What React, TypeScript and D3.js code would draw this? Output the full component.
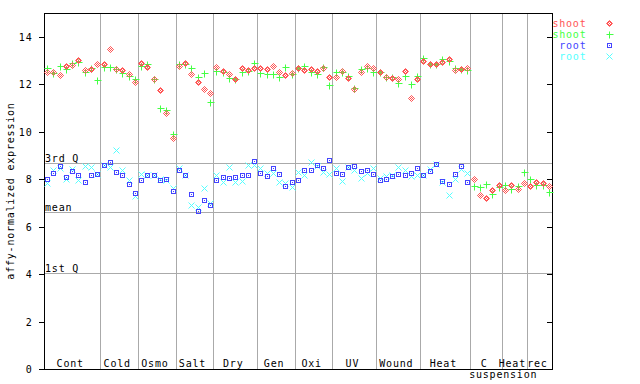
import React from "react";
import * as d3 from "d3";

const groupNames = ["Cont", "Cold", "Osmo", "Salt", "Dry", "Gen", "Oxi", "UV", "Wound", "Heat", "C", "Heat", "rec"];
const groupSizes = [9, 6, 6, 6, 7, 6, 6, 7, 7, 8, 5, 4, 4];
const yTicks = [0, 2, 4, 6, 8, 10, 12, 14];
const refLines = [
  { label: "3rd Q", value: 8.68 },
  { label: "mean", value: 6.6 },
  { label: "1st Q", value: 4.05 },
];

const shootRed = [
  12.51, 12.5, 12.39, 12.77, 12.81, 13.02, 12.6, 12.64, 12.85,
  12.85, 13.48, 12.64, 12.6, 12.43, 12.09,
  12.89, 12.72, 12.22, 11.75, 10.78, 9.73,
  12.77, 12.89, 12.43, 12.09, 11.8, 11.63,
  12.72, 12.56, 12.43, 12.22, 12.68, 12.6, 12.68,
  12.68, 12.64, 12.77, 12.51, 12.39, 12.47,
  12.68, 12.6, 12.64, 12.56, 12.68, 12.3,
  12.3, 12.56, 12.26, 11.8, 12.51, 12.77, 12.68,
  12.51, 12.3, 12.26, 12.22, 12.56, 11.42, 12.22,
  12.98, 12.85, 12.85, 12.94, 13.06, 12.6, 12.64, 12.68,
  8.0, 7.33, 7.2, 7.54, 7.75,
  7.54, 7.75, 7.58, 7.83,
  7.71, 7.87, 7.83, 7.71,
];
const shootGreen = [
  12.68, 12.47, 12.77, 12.64, 12.89, 12.94, 12.51, 12.68, 12.18,
  12.72, 12.72, 12.64, 12.47, 12.35, 12.22,
  12.77, 12.85, 12.22, 11.0, 10.91, 9.9,
  12.85, 12.85, 12.68, 12.3, 12.47, 11.25,
  12.56, 12.51, 12.26, 12.22, 12.51, 12.56, 12.89,
  12.47, 12.43, 12.43, 12.3, 12.72, 12.43,
  12.68, 12.77, 12.51, 12.43, 12.72, 11.96,
  12.51, 12.51, 12.35, 11.84, 12.64, 12.68, 12.51,
  12.51, 12.3, 12.3, 12.05, 12.35, 12.01, 12.35,
  13.1, 12.85, 12.85, 13.06, 12.98, 12.68, 12.64, 12.6,
  7.71, 7.66, 7.79, 7.37, 7.66,
  7.75, 7.58, 7.71, 8.3,
  8.0, 7.75, 7.75, 7.45,
];
const rootBlue = [
  8.0, 8.25, 8.55, 8.08, 8.34, 8.17, 7.87, 8.17, 8.21,
  8.59, 8.72, 8.3, 8.17, 7.79, 7.41,
  7.96, 8.17, 8.17, 7.96, 8.0, 7.5,
  8.38, 8.17, 7.37, 6.65, 7.11, 6.9,
  7.96, 8.08, 8.04, 8.08, 8.17, 8.17, 8.76,
  8.25, 8.13, 8.47, 8.21, 7.71, 7.87,
  7.96, 8.38, 8.38, 8.59, 8.47, 8.8,
  8.25, 8.21, 8.51, 8.55, 8.34, 8.38, 8.21,
  7.96, 8.0, 8.13, 8.21, 8.17, 8.25, 8.47,
  8.17, 8.34, 8.64, 7.92, 7.79, 8.21, 8.55, 7.87,
];
const rootCyan = [
  7.83, 8.38, 8.47, 8.0, 8.43, 7.96, 8.55, 8.51, 8.21,
  8.59, 8.51, 9.22, 8.38, 7.96, 7.28,
  8.21, 8.17, 8.17, 8.0, 7.96, 7.62,
  8.47, 8.17, 6.9, 6.82, 7.62, 6.99,
  8.17, 7.87, 8.51, 7.87, 7.92, 8.59, 8.59,
  8.47, 8.25, 8.25, 7.87, 7.83, 7.66,
  8.3, 8.17, 8.72, 8.55, 8.3, 8.21,
  8.47, 7.92, 8.51, 8.38, 8.04, 8.25, 8.47,
  8.04, 8.13, 8.17, 8.51, 8.38, 8.13, 8.17,
  8.17, 8.43, 8.64, 7.87, 7.33, 8.0, 8.43, 8.25,
];

const RED = "#ff5555";
const GREEN = "#44ff44";
const BLUE = "#4444ff";
const CYAN = "#55ffff";
const GRID = "#aaaaaa";
const FONT = "'DejaVu Sans Mono', monospace";
const FS = 10;
const LS = 0.8;

const L = 44, R = 552, T = 13, B = 369;

export default function App() {
  const total = d3.sum(groupSizes);
  const x = d3.scaleLinear().domain([0, total]).range([L, R]);
  const y = d3.scaleLinear().domain([0, 15]).range([B, T]);
  const cx = (i: number) => Math.round(x(i + 0.5)) + 0.5;
  const cy = (v: number) => Math.round(y(v)) + 0.5;
  const starts = groupSizes.map((_, k) => d3.sum(groupSizes.slice(0, k)));

  const diamond = (px: number, py: number, key: string, color: string) => (
    <path key={key} d={`M${px},${py - 3}L${px + 3},${py}L${px},${py + 3}L${px - 3},${py}Z`}
      fill="url(#chk)" stroke={color} strokeWidth={1} />
  );
  const plus = (px: number, py: number, key: string, color: string) => (
    <path key={key} d={`M${px - 3},${py}H${px + 4}M${px},${py - 3}V${py + 4}`} stroke={color} strokeWidth={1} fill="none" />
  );
  const square = (px: number, py: number, key: string, color: string) => (
    <g key={key}>
      <rect x={px - 2} y={py - 2} width={4} height={4} fill="none" stroke={color} strokeWidth={1} />
      <rect x={px - 0.5} y={py - 0.5} width={1} height={1} fill={color} />
    </g>
  );
  const cross = (px: number, py: number, key: string, color: string) => (
    <path key={key} d={`M${px - 3},${py - 3}L${px + 3},${py + 3}M${px + 3},${py - 3}L${px - 3},${py + 3}`} stroke={color} strokeWidth={1} fill="none" />
  );

  const legend = [
    { label: "shoot", color: RED, m: diamond },
    { label: "shoot", color: GREEN, m: plus },
    { label: "root", color: BLUE, m: square },
    { label: "root", color: CYAN, m: cross },
  ];

  const txt = { fontFamily: FONT, fontSize: FS, letterSpacing: LS };

  return (
    <svg width={640} height={384} style={{ position: "absolute", left: 0, top: 0, background: "#fff" }}>
      <defs>
        <pattern id="chk" width={2} height={2} patternUnits="userSpaceOnUse">
          <rect x={0} y={0} width={1} height={1} fill={RED} />
          <rect x={1} y={1} width={1} height={1} fill={RED} />
        </pattern>
      </defs>
      <rect width={640} height={384} fill="#fff" />
      {starts.slice(1).map((s, k) => (
        <line key={"sep" + k} x1={Math.round(x(s)) + 0.5} x2={Math.round(x(s)) + 0.5} y1={T} y2={B} stroke={GRID} strokeWidth={1} />
      ))}
      {refLines.map((r) => (
        <g key={r.label}>
          <line x1={L} x2={R} y1={cy(r.value)} y2={cy(r.value)} stroke={GRID} strokeWidth={1} />
          <text x={45} y={cy(r.value) - 1.5} {...txt} fill="#000">{r.label}</text>
        </g>
      ))}
      <rect x={L + 0.5} y={T + 0.5} width={R - L} height={B - T} fill="none" stroke="#000" strokeWidth={1} />
      {yTicks.map((t) => (
        <g key={"t" + t}>
          <line x1={L - 5} x2={L} y1={cy(t)} y2={cy(t)} stroke="#000" />
          <line x1={R - 5} x2={R} y1={cy(t)} y2={cy(t)} stroke="#000" />
          <text x={32.5} y={cy(t) + 3.5} textAnchor="end" {...txt} fill="#000">{t}</text>
        </g>
      ))}
      <text transform={`translate(14,${(T + B) / 2}) rotate(-90)`} textAnchor="middle" {...txt} fill="#000">
        affy-normalized expression
      </text>
      {groupNames.map((g, k) => (
        <text key={"g" + k} x={x(starts[k] + groupSizes[k] / 2) - 2} y={367} textAnchor="middle" {...txt} fill="#000">{g}</text>
      ))}
      <text x={(x(starts[10]) + x(total)) / 2 - 8} y={377.5} textAnchor="middle" {...txt} fill="#000">suspension</text>
      {rootCyan.map((v, i) => cross(cx(i), cy(v), "c" + i, CYAN))}
      {rootBlue.map((v, i) => square(cx(i), cy(v), "b" + i, BLUE))}
      {shootGreen.map((v, i) => plus(cx(i), cy(v), "g" + i, GREEN))}
      {shootRed.map((v, i) => diamond(cx(i), cy(v), "r" + i, RED))}
      {legend.map((l, k) => (
        <g key={"l" + k}>
          <text x={586.5} y={26.5 + k * 11} textAnchor="end" {...txt} fill={l.color}>{l.label}</text>
          {l.m(609.5, 23.5 + k * 11, "lm" + k, l.color)}
        </g>
      ))}
    </svg>
  );
}
